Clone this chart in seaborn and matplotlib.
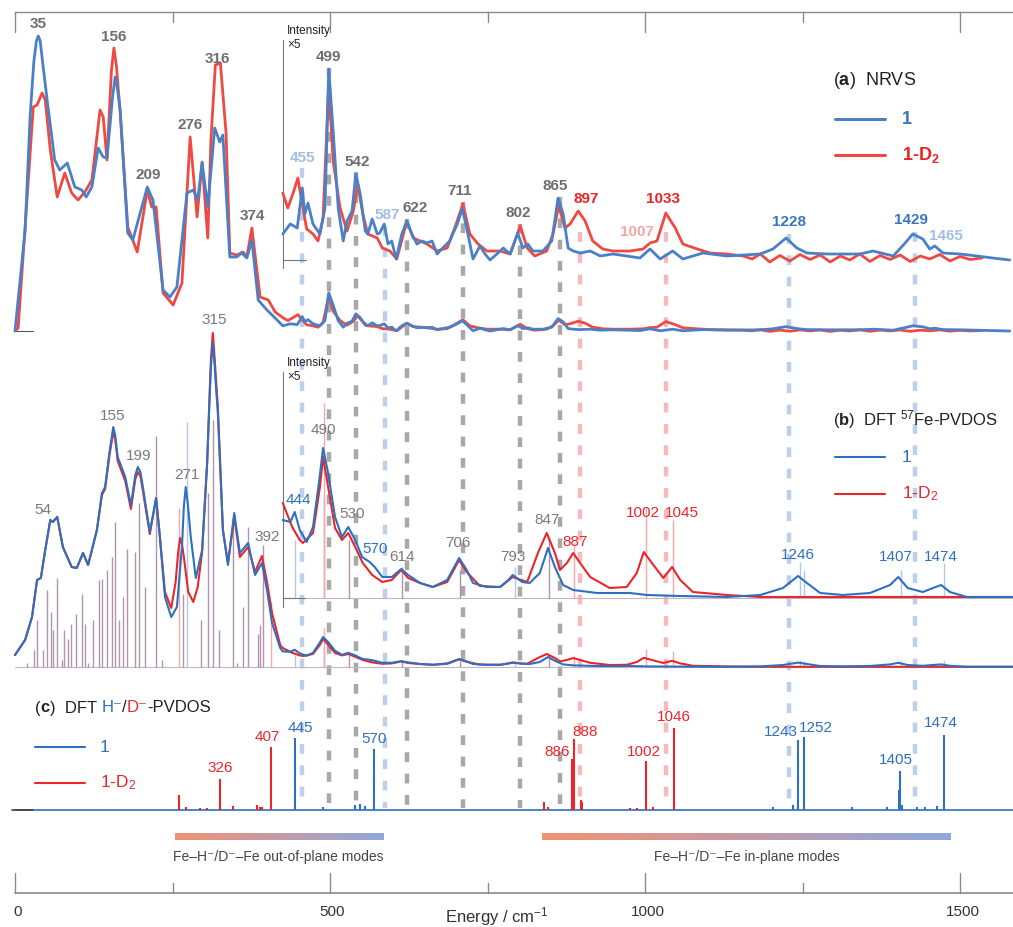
import numpy as np
import pandas as pd
import matplotlib.pyplot as plt
from matplotlib.colors import LinearSegmentedColormap
import seaborn as sns

# ---------------- data (energy in cm-1, intensity in arbitrary units) ----------------
# (a) NRVS, compound 1  (values above ~425 cm-1 are also shown x5 in the inset)
nrvs_1 = [(0, 0), (16, 100), (24, 215), (30, 270), (34, 290), (37, 295), (40, 290), (44, 268), (51, 231),
          (63, 171), (71, 161), (83, 168), (95, 144), (106, 141), (113, 134), (122, 144), (132, 183),
          (140, 174), (146, 173), (155, 235), (159, 254), (162, 245), (167, 221), (179, 98), (187, 91),
          (210, 144), (219, 131), (235, 41), (246, 34), (257, 44), (273, 138), (283, 141), (290, 131),
          (297, 168), (306, 124), (317, 203), (325, 189), (330, 196), (336, 130), (341, 74), (352, 74),
          (360, 78), (368, 73), (376, 91), (386, 31), (400, 21), (416, 11), (425, 5.2), (437, 7.2),
          (448, 6.4), (456, 14.4), (460, 9.2), (465, 11.4), (473, 7.2), (484, 5.2), (492, 10.4),
          (498, 38.2), (505, 25.8), (513, 10.4), (521, 3.8), (527, 7.8), (535, 9.8), (541, 17.2),
          (548, 13.2), (556, 5.8), (560, 5.2), (567, 8.2), (575, 5.2), (579, 5.4), (586, 7.2), (592, 3.2),
          (598, 3.8), (605, 0.2), (614, 5.2), (622, 7.8), (630, 5.2), (638, 3.2), (646, 3.8), (654, 3.4),
          (662, 3.8), (670, 1.2), (679, 2.4), (690, 3.8), (702, 7.2), (710, 10.2), (717, 6.4), (727, 0.2),
          (738, 2.8), (746, 1.2), (754, 0), (765, 1.2), (775, 2.4), (786, 1.2), (798, 5.4), (806, 2.4),
          (814, 3.2), (822, 1.8), (838, 1.8), (852, 3.8), (862, 12.4), (870, 9.2), (878, 2.4), (886, 1.8),
          (897, 1.4), (913, 1.8), (929, 0.8), (949, 1.2), (971, 0.8), (992, 0.4), (1008, 2.2), (1024, 0.2),
          (1044, 1.8), (1060, 0.2), (1076, 0.8), (1092, 1.4), (1130, 0.8), (1183, 1.2), (1203, 2.2),
          (1224, 4.4), (1241, 2.4), (1257, 1.4), (1289, 1.2), (1341, 1.2), (1362, 1.8), (1394, 0.8),
          (1413, 3.4), (1425, 5.2), (1441, 4.2), (1452, 2.2), (1460, 2.8), (1473, 1.4), (1500, 1.2),
          (1527, 0.8), (1552, 0.4), (1579, 0)]

# (a) NRVS, compound 1-D2
nrvs_d2 = [(0, 0), (5, 3), (19, 131), (29, 224), (35, 226), (43, 238), (48, 231), (56, 181), (67, 134),
           (79, 158), (90, 138), (100, 131), (111, 139), (122, 151), (135, 221), (140, 214), (146, 171),
           (153, 260), (157, 283), (161, 265), (167, 218), (179, 104), (194, 79), (210, 141), (217, 124),
           (224, 124), (235, 38), (251, 26), (265, 48), (278, 194), (289, 114), (297, 169), (306, 93),
           (311, 191), (318, 266), (326, 268), (335, 198), (341, 78), (352, 76), (362, 79), (368, 74),
           (376, 103), (389, 34), (402, 31), (413, 19), (425, 13.4), (433, 10.4), (441, 13.2), (449, 16.4),
           (457, 10.4), (463, 6.2), (473, 5.2), (481, 3.8), (489, 8.4), (498, 35.2), (505, 19.8),
           (516, 10.4), (527, 5.8), (537, 9.8), (544, 15.2), (552, 9.2), (560, 5.2), (575, 4.4), (583, 2.4),
           (595, 1.8), (606, 0.2), (622, 7.8), (632, 4.4), (643, 3.8), (654, 3.2), (670, 1.8), (686, 2.4),
           (698, 6.4), (711, 11.2), (722, 5.2), (735, 3.2), (749, 1.8), (770, 1.8), (786, 1.2), (802, 6.8),
           (813, 2.4), (825, 0.8), (844, 1.8), (854, 5.2), (863, 10.8), (873, 6.4), (881, 7.2), (894, 9.8),
           (905, 7.8), (917, 3.8), (933, 2.2), (949, 1.8), (976, 1.8), (997, 2.2), (1008, 3.4), (1019, 3.8),
           (1033, 9.4), (1048, 6.4), (1060, 3.2), (1083, 2.2), (1103, 1.4), (1130, 1.2), (1156, 0.8),
           (1170, 0.2), (1183, 1.2), (1198, -0.4), (1214, 0.9), (1230, -0.2), (1246, 1.1), (1262, 0.1),
           (1278, 1.0), (1294, -0.4), (1310, 0.8), (1325, 0.0), (1341, 1.2), (1357, -0.3), (1373, 0.9),
           (1389, 0.1), (1405, 1.0), (1421, -0.3), (1437, 0.8), (1452, 0.2), (1468, 1.1), (1484, -0.2),
           (1500, 0.7), (1516, 0.1), (1535, 0.4)]

# (b) DFT 57Fe-PVDOS, broadened curves
pvdos_1 = [(0, 12), (16, 27), (27, 50), (35, 87), (41, 89), (48, 117), (56, 147), (60, 145), (67, 150),
           (76, 120), (90, 100), (98, 99), (108, 114), (116, 102), (130, 137), (138, 174), (143, 180),
           (150, 215), (156, 240), (159, 232), (163, 210), (175, 190), (184, 162), (191, 192), (195, 200),
           (199, 195), (203, 180), (214, 135), (224, 169), (230, 130), (238, 70), (248, 50), (257, 60),
           (265, 120), (268, 160), (271, 180), (274, 165), (279, 130), (287, 89), (297, 117), (305, 204),
           (309, 270), (311, 300), (314, 325), (317, 300), (319, 280), (322, 254), (330, 137), (338, 102),
           (348, 154), (357, 114), (370, 124), (381, 92), (392, 104), (400, 77), (408, 44), (421, 19),
           (425, 15.6), (437, 15.2), (444, 17.2), (452, 13.6), (463, 11.2), (473, 14.2), (483, 23.6),
           (489, 30.0), (497, 25.0), (508, 16.2), (519, 12.2), (529, 14.2), (540, 11.6), (551, 8.2),
           (563, 7.2), (571, 6.2), (583, 4.2), (598, 4.2), (613, 5.8), (624, 4.6), (643, 3.0), (663, 2.2),
           (686, 3.6), (705, 8.0), (717, 5.6), (727, 3.0), (749, 2.2), (770, 2.2), (783, 3.6), (790, 4.6),
           (805, 3.2), (817, 3.0), (833, 5.0), (846, 10.0), (857, 6.2), (870, 2.6), (886, 1.6), (924, 1.0),
           (976, 1.0), (1003, 0.6), (1056, 0.4), (1130, 0.2), (1183, 0.6), (1219, 2.0), (1243, 4.4),
           (1257, 3.0), (1278, 1.0), (1314, 0.6), (1357, 1.0), (1389, 2.6), (1402, 4.2), (1417, 2.0),
           (1441, 1.2), (1457, 2.0), (1470, 2.6), (1484, 1.2), (1511, 0.2), (1584, 0.2)]

pvdos_d2 = [(0, 12), (16, 27), (27, 50), (35, 87), (41, 89), (48, 117), (56, 147), (60, 145), (67, 150),
            (76, 120), (90, 100), (98, 99), (108, 114), (116, 102), (130, 137), (138, 172), (143, 178),
            (150, 212), (156, 235), (159, 228), (163, 206), (175, 186), (184, 158), (191, 188), (195, 195),
            (199, 191), (203, 176), (214, 133), (224, 169), (230, 130), (238, 75), (248, 59), (255, 85),
            (259, 115), (262, 129), (265, 123), (268, 110), (275, 75), (283, 65), (290, 80), (297, 115),
            (305, 204), (309, 275), (311, 308), (314, 334), (317, 308), (319, 288), (322, 260), (330, 137),
            (338, 104), (348, 150), (357, 110), (370, 120), (381, 95), (392, 111), (400, 85), (408, 54),
            (421, 22), (425, 19.0), (440, 14.2), (452, 11.6), (457, 11.0), (473, 13.0), (484, 22.2),
            (489, 28.2), (497, 22.2), (508, 14.0), (519, 11.6), (529, 13.0), (540, 10.2), (552, 7.0),
            (567, 4.6), (583, 3.2), (598, 3.6), (613, 5.6), (624, 4.0), (643, 3.0), (663, 2.2), (686, 3.2),
            (705, 7.6), (717, 5.2), (738, 2.4), (770, 2.2), (790, 4.2), (813, 3.2), (830, 9.0), (844, 13.0),
            (857, 9.0), (865, 5.6), (876, 7.0), (886, 9.0), (897, 7.0), (913, 4.2), (944, 2.0), (971, 2.2),
            (987, 5.0), (998, 9.2), (1011, 7.0), (1029, 4.0), (1043, 6.2), (1056, 3.6), (1076, 1.2),
            (1130, 0.6), (1183, 0.2), (1584, 0.2)]

# (b) stick spectra
stick_both_E = [19, 30, 35, 44, 51, 57, 60, 67, 75, 78, 84, 89, 97, 106, 111, 116, 124, 133, 138, 146, 154,
                159, 165, 171, 178, 190, 197, 206, 224, 233, 267, 295, 306, 314, 324, 346, 352, 362, 370,
                386, 389, 394, 490, 530, 614, 706, 847]
stick_both_h = [4, 17, 47, 17, 77, 55, 37, 89, 7, 37, 28, 43, 53, 73, 43, 4, 47, 87, 88, 97, 110, 145, 47,
                70, 118, 115, 164, 80, 231, 7, 73, 47, 174, 247, 37, 150, 4, 60, 140, 33, 42, 122, 20,
                11.6, 6.2, 5.6, 12.2]
stick_1_E = [273, 444, 793, 1246, 1252, 1407, 1474]
stick_1_h = [245, 11.6, 6.2, 7.2, 5.6, 5.6, 7.0]
stick_d2_E = [260, 406, 490, 887, 1002, 1045]
stick_d2_h = [159, 65, 39, 11, 18.2, 15.6]

# (c) DFT H-/D- PVDOS sticks
hd_d2_E = [261, 271, 294, 305, 326, 346, 384, 389, 392, 407, 840, 846, 884, 888, 898, 900, 976, 987, 1002,
           1013, 1046]
hd_d2_h = [15, 3, 2, 2, 31, 4, 5, 3, 3, 63, 8, 3, 51, 71, 10, 8, 2, 2, 49, 3, 82]
hd_1_E = [445, 489, 540, 548, 556, 570, 1203, 1235, 1243, 1252, 1329, 1384, 1403, 1405, 1408, 1432, 1444,
          1463, 1474]
hd_1_h = [72, 3, 5, 6, 4, 61, 3, 5, 70, 73, 3, 3, 20, 39, 5, 3, 3, 4, 75]

# peak markers (dashed guides) from the NRVS assignments
guide_E = [455, 499, 542, 587, 622, 711, 802, 865, 897, 1033, 1228, 1429]
guide_kind = ['h', 'g', 'g', 'h', 'g', 'g', 'g', 'g', 'd', 'd', 'h', 'h']

# ---------------- style ----------------
sns.set_style("white")
plt.rcParams['font.family'] = ['Liberation Sans', 'DejaVu Sans']
plt.rcParams['mathtext.fontset'] = 'custom'
plt.rcParams['mathtext.rm'] = 'Liberation Sans'
plt.rcParams['mathtext.bf'] = 'Liberation Sans:bold'
plt.rcParams['mathtext.it'] = 'Liberation Sans:italic'
NARROW = ['Liberation Sans Narrow', 'Liberation Sans', 'DejaVu Sans']

BLUE_A, RED_A = '#4a80c8', '#ef4a42'
BLUE_B, RED_B = '#2f6fbf', '#e8262b'
GRAY_T = '#6e6e6e'
LBLUE, LRED = '#9fbfe4', '#f5a4a4'
guide_col = {'g': '#a8a8a8', 'h': '#bcd0ea', 'd': '#f6baba'}

A_BASE, A_INS = 331, 260
B_BASE, B_INS = 667, 598
C_BASE = 810
E_INS, ZOOM = 425, 5

fig = plt.figure(figsize=(10.13, 9.27), dpi=100)
ax = fig.add_axes([0, 0, 1, 1])


def X(px):
    return (px - 15) / 0.63


def spectrum(pairs, base, scale, color, lw, emin=None):
    arr = np.array(pairs, float)
    if emin is not None:
        arr = arr[arr[:, 0] >= emin]
    df = pd.DataFrame({'E': arr[:, 0], 'y': base - scale * arr[:, 1]})
    sns.lineplot(data=df, x='E', y='y', ax=ax, color=color, lw=lw, estimator=None,
                 sort=False, zorder=3, solid_joinstyle='round')


def sticks(E, h, base, scale, color, lw, alpha=1.0, emin=None):
    E = np.asarray(E, float)
    h = np.asarray(h, float)
    if emin is not None:
        keep = E >= emin
        E, h = E[keep], h[keep]
    ax.vlines(E, base, base - scale * h, colors=color, lw=lw, alpha=alpha, zorder=2)


# dashed guide lines
guide_top = [168, 68, 172, 226, 219, 202, 224, 197, 232, 232, 234, 232]
for e, k, top in zip(guide_E, guide_kind, guide_top):
    ax.vlines(e, top, 808, colors=guide_col[k], lw=3.2, linestyles=(0, (2.2, 2.6)), zorder=1)

# ---------------- panel (a) ----------------
spectrum(nrvs_d2, A_BASE, 1, RED_A, 2.0)
spectrum(nrvs_1, A_BASE, 1, BLUE_A, 2.0)
spectrum(nrvs_d2, A_INS, ZOOM, RED_A, 2.0, emin=E_INS)
spectrum(nrvs_1, A_INS, ZOOM, BLUE_A, 2.0, emin=E_INS)
ax.plot([X(15), X(33)], [A_BASE, A_BASE], color='#555', lw=0.8)
ax.plot([X(283), X(283)], [40, 268], color='#777', lw=0.8)
ax.plot([X(283), X(306)], [A_INS, A_INS], color='#777', lw=0.8)

a_labels = [("35", 38, 24, GRAY_T), ("156", 114, 37, GRAY_T), ("209", 148, 175, GRAY_T),
            ("276", 190, 125, GRAY_T), ("316", 217, 59, GRAY_T), ("374", 252, 216, GRAY_T),
            ("455", 303, 158, LBLUE), ("499", 329, 57, GRAY_T), ("542", 357, 162, GRAY_T),
            ("587", 387, 215, LBLUE), ("622", 415, 208, GRAY_T), ("711", 460, 191, GRAY_T),
            ("802", 518, 213, GRAY_T), ("865", 555, 186, GRAY_T), ("897", 586, 199, '#ec2227'),
            ("1033", 663, 199, '#ec2227'), ("1007", 637, 232, LRED), ("1228", 789, 222, '#3a76c0'),
            ("1429", 911, 220, '#3a76c0'), ("1465", 946, 236, LBLUE)]
for t, px, py, c in a_labels:
    ax.text(X(px), py, t, ha='center', va='center', fontsize=11, fontweight='bold', color=c, zorder=5)

# ---------------- panel (b) ----------------
ax.plot([0, X(1013)], [B_BASE, B_BASE], color='#c9b3c6', lw=0.8, zorder=2)
ax.plot([E_INS, X(1013)], [B_INS, B_INS], color='#c9b3c6', lw=0.8, zorder=2)
for base, scale, emin in [(B_BASE, 1, None), (B_INS, ZOOM, E_INS)]:
    sticks(stick_both_E, stick_both_h, base, scale, '#a3839f', 1.0, 0.85, emin)
    sticks(stick_1_E, stick_1_h, base, scale, '#b3c8e8', 1.0, 1.0, emin)
    sticks(stick_d2_E, stick_d2_h, base, scale, '#f5a9a9', 1.0, 1.0, emin)
spectrum(pvdos_d2, B_BASE, 1, RED_B, 1.5)
spectrum(pvdos_1, B_BASE, 1, BLUE_B, 1.5)
spectrum(pvdos_d2, B_INS, ZOOM, RED_B, 1.5, emin=E_INS)
spectrum(pvdos_1, B_INS, ZOOM, BLUE_B, 1.5, emin=E_INS)
ax.plot([X(283), X(283)], [372, 607], color='#777', lw=0.8)
ax.plot([X(283), X(305)], [B_INS, B_INS], color='#777', lw=0.8)

GRAY_B = '#7a7a7a'
b_labels = [("54", 43, 510, GRAY_B), ("155", 113, 416, GRAY_B), ("199", 139, 456, GRAY_B),
            ("271", 187, 475, GRAY_B), ("315", 214, 320, GRAY_B), ("392", 267, 537, GRAY_B),
            ("444", 298, 500, BLUE_B), ("490", 323, 430, GRAY_B), ("530", 352, 514, GRAY_B),
            ("570", 375, 549, BLUE_B), ("614", 402, 557, GRAY_B), ("706", 458, 543, GRAY_B),
            ("793", 513, 557, GRAY_B), ("847", 547, 520, GRAY_B), ("887", 575, 542, RED_B),
            ("1002", 643, 513, RED_B), ("1045", 682, 513, RED_B), ("1246", 798, 555, BLUE_B),
            ("1407", 896, 557, BLUE_B), ("1474", 941, 557, BLUE_B)]
for t, px, py, c in b_labels:
    ax.text(X(px), py, t, ha='center', va='center', fontsize=11, family=NARROW, color=c, zorder=5)

# ---------------- panel (c) ----------------
ax.plot([0, X(1013)], [C_BASE, C_BASE], color=BLUE_B, lw=1.2, zorder=2)
ax.plot([X(12), X(33)], [C_BASE, C_BASE], color='#444', lw=1.2, zorder=3)
sticks(hd_d2_E, hd_d2_h, C_BASE, 1, RED_B, 1.5)
sticks(hd_1_E, hd_1_h, C_BASE, 1, BLUE_B, 1.5)
c_labels = [("326", 220, 768, RED_B), ("407", 267, 737, RED_B), ("445", 300, 728, BLUE_B),
            ("570", 374, 739, BLUE_B), ("886", 557, 752, RED_B), ("888", 585, 732, RED_B),
            ("1002", 644, 752, RED_B), ("1046", 674, 717, RED_B), ("1243", 781, 732, BLUE_B),
            ("1252", 816, 728, BLUE_B), ("1405", 896, 760, BLUE_B), ("1474", 941, 723, BLUE_B)]
for t, px, py, c in c_labels:
    ax.text(X(px), py, t, ha='center', va='center', fontsize=11, family=NARROW, color=c, zorder=5)

# ---------------- legends ----------------
ax.text(X(833), 80, r"($\mathbf{a}$)  NRVS", fontsize=13, va='center', color='#222')
ax.plot([X(835), X(885)], [119, 119], color=BLUE_A, lw=2.2)
ax.plot([X(835), X(885)], [155, 155], color=RED_A, lw=2.2)
ax.text(X(902), 119, "1", fontsize=13, fontweight='bold', va='center', color='#3a76c0')
ax.text(X(902), 155, r"1-D$_\mathbf{2}$", fontsize=13, fontweight='bold', va='center', color='#ec2227')

ax.text(X(833), 420, r"($\mathbf{b}$)  DFT $^{57}$Fe-PVDOS", fontsize=12, va='center', color='#222')
ax.plot([X(835), X(885)], [457, 457], color=BLUE_B, lw=1.5)
ax.plot([X(835), X(885)], [494, 494], color=RED_B, lw=1.5)
ax.text(X(902), 457, "1", fontsize=12.5, va='center', color=BLUE_B)
ax.text(X(902), 494, r"1-D$_2$", fontsize=12.5, va='center', color=RED_B)

pieces = [("(", '#222', 'normal'), ("c", '#222', 'bold'), (")  DFT ", '#222', 'normal'),
          ("H\u207b", BLUE_B, 'normal'), ("/", '#222', 'normal'), ("D\u207b", RED_B, 'normal'),
          ("-PVDOS", '#222', 'normal')]
prev = ax.text(X(35), 708, pieces[0][0], fontsize=12, va='center', color=pieces[0][1])
for txt, col, w in pieces[1:]:
    prev = ax.annotate(txt, xy=(1, 0), xycoords=prev, va='bottom', ha='left', fontsize=12,
                       color=col, fontweight=w)
ax.plot([X(35), X(85)], [747, 747], color=BLUE_B, lw=1.5)
ax.plot([X(35), X(85)], [783, 783], color=RED_B, lw=1.5)
ax.text(X(100), 747, "1", fontsize=12.5, va='center', color=BLUE_B)
ax.text(X(100), 783, r"1-D$_2$", fontsize=12.5, va='center', color=RED_B)

ax.text(X(287), 31, "Intensity", fontsize=8.5, va='center', color='#222')
ax.text(X(287), 45, "\u00d75", fontsize=8.5, va='center', color='#222')
ax.text(X(287), 363, "Intensity", fontsize=8.5, va='center', color='#222')
ax.text(X(287), 377, "\u00d75", fontsize=8.5, va='center', color='#222')

# ---------------- mode bars ----------------
cmap = LinearSegmentedColormap.from_list('modes', ['#f29372', '#c59aa8', '#8ea8de'])
grad = np.linspace(0, 1, 256).reshape(1, -1)
ax.imshow(grad, cmap=cmap, aspect='auto', extent=(X(175), X(384), 840, 833), zorder=2)
ax.imshow(grad, cmap=cmap, aspect='auto', extent=(X(542), X(951), 840, 833), zorder=2)
ax.text(X(278), 857, "Fe\u2013H\u207b/D\u207b\u2013Fe out-of-plane modes", ha='center', va='center',
        fontsize=10, family=NARROW, color='#444')
ax.text(X(747), 857, "Fe\u2013H\u207b/D\u207b\u2013Fe in-plane modes", ha='center', va='center',
        fontsize=10, family=NARROW, color='#444')

# ---------------- frame axes ----------------
right = X(1013)
ax.plot([0, right], [12, 12], color='#8a8a8a', lw=1.0)
ax.plot([0, right], [893, 893], color='#8a8a8a', lw=1.2)
for e in range(0, 1501, 250):
    ln = 20 if e % 500 == 0 else 10
    ax.plot([e, e], [12, 12 + ln], color='#8a8a8a', lw=1.0)
    ax.plot([e, e], [893 - ln, 893], color='#8a8a8a', lw=1.0)
for e in [0, 500, 1000, 1500]:
    ax.text(e + 4, 912, str(e), ha='center', va='center', fontsize=11, family=NARROW, color='#333')
ax.text(X(497), 917, r"Energy / cm$^{-1}$", ha='center', va='center', fontsize=12, family=NARROW,
        color='#333')

ax.set_xlim(X(0), right)
ax.set_ylim(927, 0)
ax.axis('off')
fig.savefig('out.png', dpi=100)
